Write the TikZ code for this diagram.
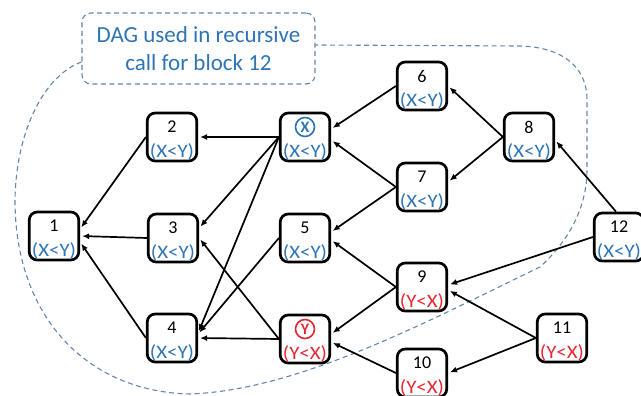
\documentclass[tikz,border=0pt]{standalone}
\usepackage{fontspec}
\usepackage{graphicx}
\setmainfont{Carlito}
\usetikzlibrary{arrows.meta}
\pgfdeclarelayer{background}
\pgfsetlayers{background,main}

\definecolor{lblue}{RGB}{46,117,182}
\definecolor{lred}{RGB}{228,40,52}
\definecolor{dashc}{RGB}{100,135,170}

\tikzset{
  blk/.style={draw=black, line width=2.7pt, rounded corners=8pt, fill=white,
              minimum width=49.5pt, minimum height=48pt, inner sep=0pt},
  numtxt/.style={inner sep=0pt, font=\fontsize{18}{18}\selectfont},
  labtxt/.style={inner sep=0pt, font=\fontsize{19}{19}\selectfont},
  ring/.style={circle, draw=#1, text=#1, line width=1.6pt, minimum size=19pt,
               inner sep=0pt, font=\bfseries\fontsize{16}{16}\selectfont},
  edge/.style={line width=1.7pt, -{Latex[length=7pt,width=6pt]}, shorten >=2pt},
  region/.style={draw=dashc, line width=1.1pt, dash pattern=on 5pt off 3.5pt},
  callout/.style={region, rounded corners=9pt, fill=white, text=lblue,
                  minimum width=233pt, minimum height=71pt, align=center,
                  inner sep=0pt, font=\fontsize{23}{28}\selectfont},
}

% #1 name, #2 position, #3 style of the top mark, #4 top mark,
% #5 order label, #6 label colour
\newcommand\dagbox[6]{%
  \node[blk] (#1) at (#2) {};
  \node[#3] (#1-n) at ([yshift=10pt]#1.center) {#4};
  \node[labtxt, text=#6] (#1-l) at ([yshift=-15pt]#1.center) {\scalebox{1.1}[1]{#5}};
}

\begin{document}
\begin{tikzpicture}[x=1pt, y=-1pt]
  \useasboundingbox (0,0) rectangle (641,396);

  % blocks of the DAG
  \dagbox{n1}{54,236}{numtxt}{1}{(X<Y)}{lblue}
  \dagbox{n2}{172,137}{numtxt}{2}{(X<Y)}{lblue}
  \dagbox{n3}{173,238}{numtxt}{3}{(X<Y)}{lblue}
  \dagbox{n4}{172,338}{numtxt}{4}{(X<Y)}{lblue}
  \dagbox{nX}{305,137}{ring=lblue}{X}{(X<Y)}{lblue}
  \dagbox{n5}{305,238}{numtxt}{5}{(X<Y)}{lblue}
  \dagbox{nY}{305,339}{ring=lred}{Y}{(Y<X)}{lred}
  \dagbox{n6}{422,86}{numtxt}{6}{(X<Y)}{lblue}
  \dagbox{n7}{422,187}{numtxt}{7}{(X<Y)}{lblue}
  \dagbox{n8}{529,137}{numtxt}{8}{(X<Y)}{lblue}
  \dagbox{n9}{422,287}{numtxt}{9}{(Y<X)}{lred}
  \dagbox{n10}{422,373}{numtxt}{10}{(Y<X)}{lred}
  \dagbox{n11}{562,338}{numtxt}{11}{(Y<X)}{lred}
  \dagbox{n12}{619,237}{numtxt}{12}{(X<Y)}{lblue}

  % note on the sub-DAG
  \node[callout] (note) at (198.5,48.5) {DAG used in recursive\\call for block 12};
  \coordinate (rstart) at ([yshift=-13.5pt]note.west);
  \coordinate (rend) at ([yshift=3.5pt]note.east);

  \begin{pgfonlayer}{background}
    % outline of the sub-DAG
    \draw[region] (rstart) .. controls (45,75) and (16,130) .. (15,200)
      .. controls (15,320) and (90,392) .. (190,394)
      .. controls (300,390) and (430,320) .. (540,267)
      .. controls (575,235) and (587,200) .. (587,170)
      -- (587,100)
      .. controls (587,65) and (560,47) .. (520,46)
      -- (rend);

    % dependencies
    \draw[edge] (n2.west) -- ([yshift=7pt]n1.east);
    \draw[edge] (n3.west) -- (n1.east);
    \draw[edge] (n4.west) -- ([yshift=-6pt]n1.east);
    \draw[edge] (nX.west) -- (n2.east);
    \draw[edge] (nX.west) -- ([yshift=10pt]n3.east);
    \draw[edge] (nX.west) -- ([yshift=5pt]n4.east);
    \draw[edge] (n5.west) -- ([yshift=4pt]n4.east);
    \draw[edge] (nY.west) -- (n4.east);
    \draw[edge] (nY.west) -- (n3.east);
    \draw[edge] (n6.west) -- ([yshift=8pt]nX.east);
    \draw[edge] (n7.west) -- ([yshift=-3pt]nX.east);
    \draw[edge] (n7.west) -- ([yshift=6pt]n5.east);
    \draw[edge] (n8.west) -- (n6.east);
    \draw[edge] (n8.west) -- ([yshift=5pt]n7.east);
    \draw[edge] ([xshift=-3pt]n12.north) -- ([yshift=-3pt]n8.east);
    \draw[edge] (n12.west) -- ([yshift=2pt]n9.east);
    \draw[edge] (n9.west) -- ([yshift=-2pt]n5.east);
    \draw[edge] (n9.west) -- ([yshift=5pt]nY.east);
    \draw[edge] (n10.west) -- ([yshift=-3pt]nY.east);
    \draw[edge] (n11.west) -- ([yshift=-3pt]n9.east);
    \draw[edge] (n11.west) -- (n10.east);
  \end{pgfonlayer}
\end{tikzpicture}
\end{document}
